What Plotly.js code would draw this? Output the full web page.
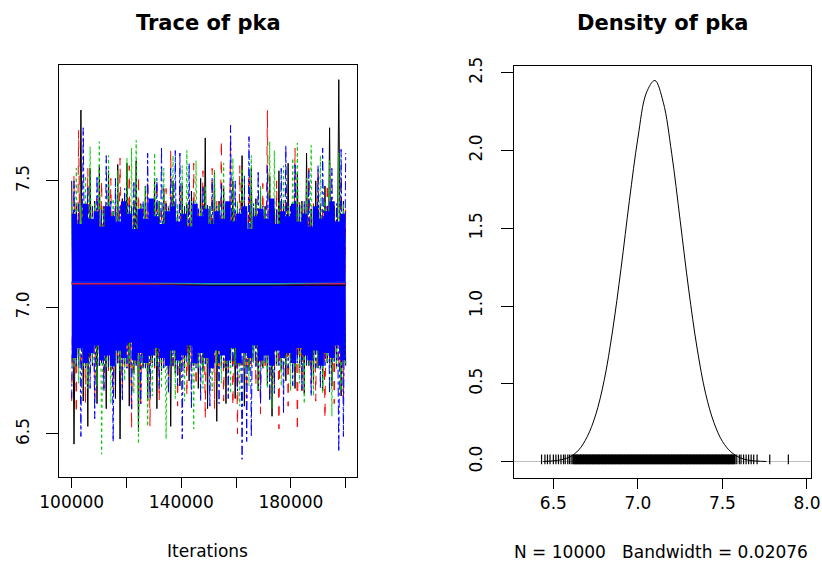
<!DOCTYPE html>
<html>
<head>
<meta charset="utf-8">
<script src="https://cdn.plot.ly/plotly-3.0.1.min.js"></script>
<style>html,body{margin:0;padding:0;background:#fff;}#chart{width:822px;height:562px;}</style>
</head>
<body>
<div id="chart"></div>
<script>
// ---------- data ----------
const iterStart = 100000;
const iterEnd = 200000;

const chainBlack = [
 7.50,6.46,7.41,6.76,7.78,6.63,7.39,6.53,7.55,6.77,
 7.42,6.62,7.56,6.78,7.40,6.60,7.54,6.75,7.38,6.64,
 7.565,6.48,7.43,6.77,7.57,6.61,7.40,6.74,7.58,6.51,
 7.41,6.76,7.48,6.63,7.39,6.78,7.51,6.60,7.42,6.75,
 7.47,6.77,7.40,6.53,7.50,6.74,7.38,6.69,7.49,6.76,
 7.41,6.71,7.46,6.77,7.39,6.68,7.51,6.75,7.67,6.60,
 7.40,6.77,7.54,6.55,7.42,6.76,7.47,6.62,7.39,6.78,
 7.50,6.64,7.41,6.77,7.60,6.61,7.38,6.75,7.55,6.79,
 7.43,6.67,7.46,6.76,7.40,6.69,7.52,6.57,7.39,6.77,
 7.54,6.75,7.41,6.71,7.57,6.78,7.40,6.68,7.53,6.76,
 7.42,6.66,7.61,6.77,7.39,6.70,7.50,6.76,7.41,6.67,
 7.48,6.78,7.71,6.69,7.40,6.76,7.90,6.65,7.42,6.77];
const chainRed = [
 6.63,7.52,6.58,7.70,6.76,7.41,6.62,7.55,6.78,7.39,
 6.64,7.43,6.77,7.50,6.68,7.40,6.75,7.51,6.66,7.42,
 6.77,7.59,6.69,7.40,6.76,7.56,6.52,7.41,6.78,7.52,
 6.62,7.39,6.77,7.49,6.53,7.42,6.76,7.50,6.63,7.40,
 6.78,7.47,6.68,7.62,6.75,7.41,6.61,7.48,6.77,7.39,
 6.65,7.43,6.76,7.57,6.69,7.40,6.78,7.54,6.56,7.41,
 6.76,7.55,6.60,7.42,6.77,7.66,6.63,7.40,6.75,7.66,
 6.61,7.39,6.50,7.56,6.77,7.42,6.64,7.53,6.76,7.41,
 6.69,7.40,6.58,7.49,6.77,7.78,6.63,7.41,6.68,7.50,
 6.52,7.42,6.76,7.47,6.61,7.40,6.78,7.63,6.51,7.43,
 6.67,7.39,6.77,7.55,6.70,7.41,6.63,7.54,6.76,7.40,
 6.56,7.49,6.77,7.42,6.62,7.39,6.76,7.52,6.64,7.41];
const chainGreen = [
 7.42,6.76,7.55,6.70,7.40,6.77,7.52,6.68,7.635,6.78,
 7.41,6.69,7.655,6.42,7.39,6.76,7.60,6.62,7.43,6.77,
 7.54,6.75,7.40,6.71,7.59,6.78,7.63,6.66,7.66,6.46,
 7.41,6.76,7.48,6.53,7.39,6.65,7.61,6.77,7.42,6.68,
 7.55,6.48,7.40,6.77,7.60,6.64,7.41,6.76,7.56,6.63,
 7.62,6.77,7.42,6.52,7.58,6.76,7.39,6.68,7.48,6.78,
 7.40,6.67,7.54,6.77,7.41,6.70,7.57,6.76,7.39,6.66,
 7.59,6.77,7.42,6.61,7.55,6.76,7.40,6.69,7.60,6.78,
 7.41,6.67,7.48,6.76,7.39,6.68,7.655,6.60,7.62,6.77,
 7.42,6.69,7.56,6.77,7.40,6.67,7.59,6.76,7.65,6.70,
 7.41,6.62,7.51,6.77,7.64,6.65,7.40,6.76,7.60,6.66,
 7.42,6.78,7.58,6.57,7.39,6.76,7.61,6.67,7.41,6.77];
const chainBlue = [
 6.64,7.50,6.77,7.41,6.49,7.71,6.76,7.48,6.68,7.40,
 6.56,7.52,6.77,7.39,6.67,7.60,6.76,7.42,6.47,7.51,
 6.78,7.40,6.63,7.47,6.76,7.41,6.60,7.50,6.77,7.39,
 6.62,7.42,6.76,7.61,6.64,7.40,6.77,7.51,6.68,7.635,
 6.76,7.41,6.66,7.55,6.77,7.62,6.69,7.61,6.48,7.40,
 6.78,7.57,6.60,7.42,6.76,7.39,6.63,7.48,6.77,7.41,
 6.61,7.51,6.78,7.40,6.62,7.49,6.76,7.41,6.64,7.72,
 6.77,7.50,6.67,7.39,6.40,7.52,6.47,7.675,6.49,7.41,
 6.76,7.54,6.62,7.40,6.78,7.56,6.63,7.42,6.66,7.39,
 6.77,7.55,6.58,7.64,6.76,7.40,6.69,7.57,6.78,7.41,
 6.67,7.42,6.77,7.54,6.65,7.39,6.76,7.56,6.68,7.63,
 6.77,7.40,6.66,7.55,6.78,7.41,6.43,7.625,6.49,7.61];

// dense core of the overplotted chains (upper / lower edge of the solid band)
const bandIter  = [100000,102000,104000,106000,108000,110000,112000,114000,116000,118000,
                   120000,122000,124000,126000,128000,130000,132000,134000,136000,138000,
                   140000,142000,144000,146000,148000,150000,152000,154000,156000,158000,
                   160000,162000,164000,166000,168000,170000,172000,174000,176000,178000,
                   180000,182000,184000,186000,188000,190000,192000,194000,196000,198000,200000];
const bandUpper = [7.37,7.33,7.41,7.35,7.38,7.32,7.40,7.36,7.34,7.42,
                   7.37,7.31,7.39,7.35,7.43,7.36,7.33,7.38,7.40,7.34,
                   7.37,7.32,7.41,7.36,7.39,7.33,7.38,7.35,7.42,7.34,
                   7.37,7.40,7.31,7.36,7.39,7.35,7.43,7.33,7.38,7.36,
                   7.41,7.34,7.37,7.32,7.40,7.35,7.38,7.42,7.34,7.37,7.36];
const bandLower = [6.80,6.84,6.78,6.82,6.85,6.79,6.81,6.77,6.83,6.80,
                   6.86,6.79,6.82,6.78,6.81,6.84,6.80,6.77,6.83,6.79,
                   6.81,6.85,6.78,6.82,6.80,6.76,6.83,6.81,6.79,6.84,
                   6.78,6.82,6.80,6.85,6.79,6.81,6.77,6.83,6.80,6.82,
                   6.78,6.84,6.81,6.79,6.83,6.77,6.82,6.80,6.85,6.79,6.81];

// lowess smooths per chain
const smoothIter  = [100000,125000,150000,175000,200000];
const smoothBlack = [7.094,7.094,7.089,7.089,7.089];
const smoothRed   = [7.094,7.094,7.094,7.094,7.094];
const smoothGreen = [7.101,7.100,7.094,7.094,7.101];
const smoothBlue  = [7.101,7.101,7.101,7.101,7.101];

// density of pka
const densX = [6.44,6.50,6.55,6.60,6.65,6.70,6.75,6.80,6.85,6.90,6.95,7.00,7.05,7.10,7.15,7.20,7.25,7.30,7.35,7.40,7.45,7.50,7.55,7.60,7.65,7.70,7.76];
const densY = [0.001,0.005,0.013,0.032,0.075,0.16,0.30,0.52,0.84,1.24,1.68,2.08,2.37,2.45,2.31,1.98,1.55,1.11,0.73,0.44,0.25,0.13,0.063,0.027,0.010,0.004,0.001];

// rug of sample values
const rugTails = [6.43,6.45,6.465,6.48,6.50,6.515,6.53,6.545,6.56,6.57,6.585,6.595,6.605,6.615,
                  7.575,7.585,7.60,7.61,7.625,7.64,7.655,7.67,7.685,7.705,7.78,7.89];
const rugDense = [6.622,6.631,6.639,6.648,6.657,6.665,6.674,6.683,6.691,6.70,6.709,6.717,6.726,6.735,6.743,6.752,6.761,6.769,6.778,6.787,6.795,6.804,6.813,6.821,6.83,6.839,6.847,6.856,6.865,6.873,6.882,6.891,6.899,6.908,6.917,6.925,6.934,6.943,6.951,6.96,6.969,6.977,6.986,6.995,7.003,7.012,7.021,7.029,7.038,7.047,7.055,7.064,7.073,7.081,7.09,7.099,7.107,7.116,7.125,7.133,7.142,7.151,7.159,7.168,7.177,7.185,7.194,7.203,7.211,7.22,7.229,7.237,7.246,7.255,7.263,7.272,7.281,7.289,7.298,7.307,7.315,7.324,7.333,7.341,7.35,7.359,7.367,7.376,7.385,7.393,7.402,7.411,7.419,7.428,7.437,7.445,7.454,7.463,7.471,7.48,7.489,7.497,7.506,7.515,7.523,7.532,7.541,7.549,7.558,7.567];

// ticks
const traceXTicks = [100000,120000,140000,160000,180000,200000];
const traceXLabels = ["100000","","140000","","180000",""];
const traceYTicks = [6.5,7.0,7.5];
const traceYLabels = ["6.5","7.0","7.5"];
const densXTicks = [6.5,7.0,7.5,8.0];
const densXLabels = ["6.5","7.0","7.5","8.0"];
const densYTicks = [0,0.5,1.0,1.5,2.0,2.5];
const densYLabels = ["0.0","0.5","1.0","1.5","2.0","2.5"];

const titles = ["Trace of pka","Density of pka"];
const xlabTrace = "Iterations";
const xlabDens = "N = 10000\u00a0\u00a0\u00a0Bandwidth = 0.02076";

// ---------- build ----------
function iters(n){ const a=[]; for(let i=0;i<n;i++) a.push(iterStart + i*(iterEnd-iterStart)/(n-1)); return a; }
const FONT = "DejaVu Sans, Arial, sans-serif";

function chain(vals, color, dash){
  return {x: iters(vals.length), y: vals, type:'scatter', mode:'lines', xaxis:'x', yaxis:'y',
    line:{color:color, width:1, dash:dash}, hoverinfo:'skip', showlegend:false};
}
function smooth(vals, color){
  return {x: smoothIter, y: vals, type:'scatter', mode:'lines', xaxis:'x', yaxis:'y',
    line:{color:color, width:1.5}, hoverinfo:'skip', showlegend:false};
}
function rug(vals, w){
  return {x: vals, y: vals.map(()=>0.015), type:'scatter', mode:'markers', xaxis:'x2', yaxis:'y2',
    marker:{symbol:'line-ns-open', size:7, color:'#000', line:{width:w, color:'#000'}}, hoverinfo:'skip', showlegend:false};
}

const data = [
  chain(chainBlack,'#000000','solid'),
  chain(chainRed,'#FF0000','dash'),
  chain(chainGreen,'#00CD00','dot'),
  {x: bandIter, y: bandLower, type:'scatter', mode:'lines', xaxis:'x', yaxis:'y', line:{width:0,color:'#0000FF',shape:'hv'}, hoverinfo:'skip', showlegend:false},
  {x: bandIter, y: bandUpper, type:'scatter', mode:'lines', xaxis:'x', yaxis:'y', fill:'tonexty', fillcolor:'#0000FF', line:{width:0,color:'#0000FF',shape:'hv'}, hoverinfo:'skip', showlegend:false},
  chain(chainBlue,'#0000FF','dashdot'),
  smooth(smoothBlack,'#000000'),
  smooth(smoothRed,'#D0206A'),
  smooth(smoothGreen,'#1E9E9E'),
  smooth(smoothBlue,'#0000FF'),
  {x: densX, y: densY, type:'scatter', mode:'lines', xaxis:'x2', yaxis:'y2', line:{color:'#000000', width:1, shape:'spline'}, hoverinfo:'skip', showlegend:false},
  rug(rugTails, 1.2),
  rug(rugDense, 2.5)
];

const axBase = {showgrid:false, zeroline:false, showline:true, mirror:true, linecolor:'#000', linewidth:1,
  ticks:'outside', ticklen:10, tickwidth:1, tickcolor:'#000', tickmode:'array',
  tickfont:{family:FONT, size:17, color:'#000'}};

const layout = {
  width:822, height:562, margin:{l:0,r:0,t:0,b:0}, paper_bgcolor:'#fff', plot_bgcolor:'#fff', showlegend:false,
  xaxis: Object.assign({}, axBase, {domain:[59/822, 357/822], range:[95365, 204124], tickvals:traceXTicks, ticktext:traceXLabels, anchor:'y', ticklabelstandoff:0}),
  yaxis: Object.assign({}, axBase, {domain:[(562-477)/562, (562-65)/562], range:[6.33, 7.958], tickvals:traceYTicks, ticktext:traceYLabels, anchor:'x', tickangle:-90, ticklen:12, ticklabelstandoff:10}),
  xaxis2: Object.assign({}, axBase, {domain:[514/822, 811/822], range:[6.267, 8.024], tickvals:densXTicks, ticktext:densXLabels, anchor:'y2', ticklabelstandoff:0}),
  yaxis2: Object.assign({}, axBase, {domain:[(562-477.5)/562, (562-65.5)/562], range:[-0.102, 2.546], tickvals:densYTicks, ticktext:densYLabels, anchor:'x2', tickangle:-90, ticklen:12, ticklabelstandoff:12,
    zeroline:true, zerolinecolor:'#BEBEBE', zerolinewidth:1}),
  annotations: [
    {text:'<b>'+titles[0]+'</b>', xref:'paper', yref:'paper', x:208/822, y:(562-23)/562, xanchor:'center', yanchor:'middle', showarrow:false, font:{family:FONT, size:21, color:'#000'}},
    {text:'<b>'+titles[1]+'</b>', xref:'paper', yref:'paper', x:662/822, y:(562-23)/562, xanchor:'center', yanchor:'middle', showarrow:false, font:{family:FONT, size:21, color:'#000'}},
    {text:xlabTrace, xref:'paper', yref:'paper', x:207/822, y:(562-551)/562, xanchor:'center', yanchor:'middle', showarrow:false, font:{family:FONT, size:17, color:'#000'}},
    {text:xlabDens, xref:'paper', yref:'paper', x:661/822, y:(562-552)/562, xanchor:'center', yanchor:'middle', showarrow:false, font:{family:FONT, size:17, color:'#000'}}
  ]
};

Plotly.newPlot('chart', data, layout, {staticPlot:true, displayModeBar:false});
</script>
</body>
</html>
